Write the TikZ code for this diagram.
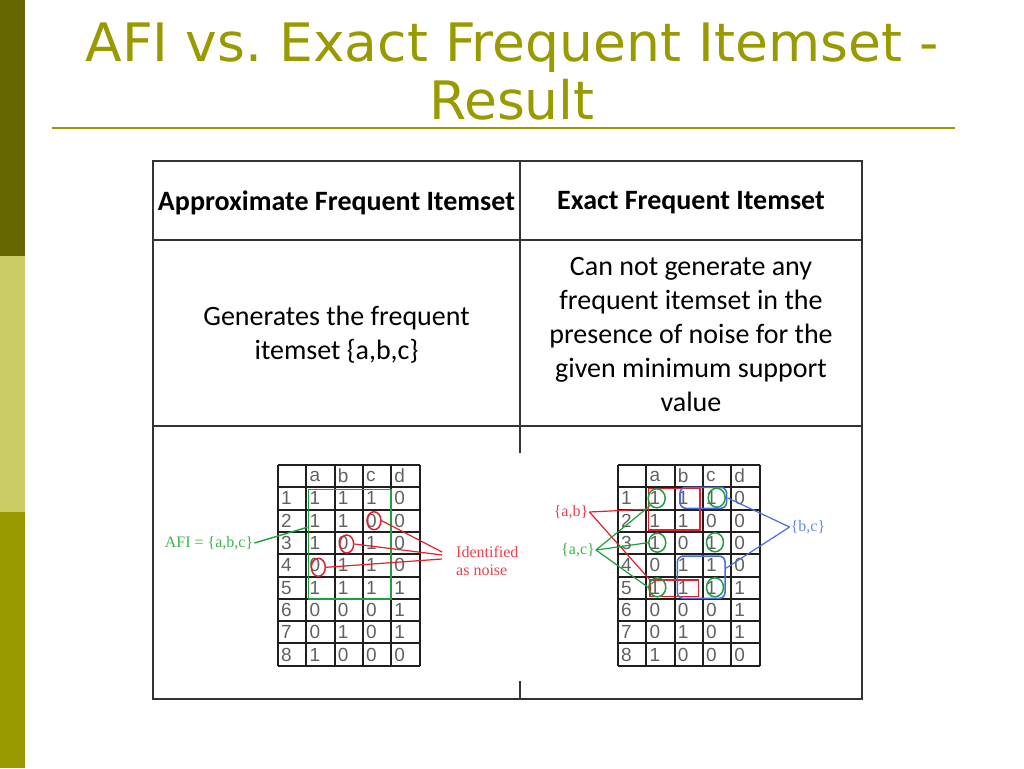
\documentclass[tikz,border=0pt]{standalone}
\usepackage{fontspec}
\setmainfont{Carlito}
\newfontfamily\titlefont[FakeStretch=1.01]{DejaVu Sans}
\newfontfamily\gridfont{Liberation Sans}
\newfontfamily\notefont{Liberation Serif}
\usetikzlibrary{positioning,shapes.geometric}
\definecolor{sidedark}{HTML}{666600}
\definecolor{sidelight}{HTML}{CCCC66}
\definecolor{sideolive}{HTML}{999900}
\definecolor{noisered}{HTML}{E0202C}
\definecolor{labelred}{HTML}{E8404E}
\definecolor{setgreen}{HTML}{1E9E3C}
\definecolor{labelgreen}{HTML}{3CB44B}
\definecolor{setblue}{HTML}{4A6CE0}
\definecolor{labelblue}{HTML}{6A86E8}
\frenchspacing

% one 0/1 table of transactions, #1 = origin, #2 = name prefix
\newcommand\itemgrid[2]{%
\begin{scope}[shift={#1}]
\foreach \i in {0,...,9} \draw[gridline] (0,\i*22.3) -- (141.5,\i*22.3);
\foreach \j in {0,...,5} \draw[gridline] (\j*28.3,0) -- (\j*28.3,200.7);
\foreach \h [count=\c] in {a,b,c,d} \node[cell](#2-0-\c) at (\c*28.3+2,11.15) {\h};
\foreach \r [count=\n] in {{1,1,1,0},{1,1,0,0},{1,0,1,0},{0,1,1,0},{1,1,1,1},{0,0,0,1},{0,1,0,1},{1,0,0,0}}{
  \node[cell](#2-\n-0) at (2,\n*22.3+11.15) {\n};
  \foreach \v [count=\c] in \r \node[cell](#2-\n-\c) at (\c*28.3+2,\n*22.3+11.15) {\v};
}
\end{scope}}

\begin{document}
\begin{tikzpicture}[x=1pt,y=-1pt,
  gridline/.style={draw=black!88,line width=2pt},
  cell/.style={anchor=west,inner sep=1pt,font=\gridfont\fontsize{19}{19}\selectfont,text=black!62},
  tableline/.style={draw=black!80,line width=1.1pt},
  noise/.style={ellipse,draw=noisered,line width=1.5pt,minimum width=14,minimum height=18,inner sep=0pt},
  hit/.style={ellipse,draw=setgreen,line width=1.5pt,minimum width=17,minimum height=19,inner sep=0pt},
  setbox/.style={rectangle,line width=1.6pt,inner sep=0pt},
  note/.style={font=\notefont\fontsize{16}{18}\selectfont,inner sep=1pt},
  head/.style={font=\bfseries\fontsize{28}{34}\selectfont},
  body/.style={font=\fontsize{28}{34}\selectfont,align=center}]
\useasboundingbox (0,0) rectangle (1024,768);

% side bar and title
\fill[sidedark] (0,0) rectangle (25,256);
\fill[sidelight] (0,256) rectangle (25,512);
\fill[sideolive] (0,512) rectangle (25,768);
\node[anchor=base,text=sideolive,font=\titlefont\fontsize{53}{60}\selectfont](t1) at (512,61) {AFI vs. Exact Frequent Itemset -};
\node[anchor=base,text=sideolive,font=\titlefont\fontsize{53}{60}\selectfont](t2) at (512,119) {Result};
\draw[sideolive,line width=2pt] (52,128) -- (955,128);

% table
\draw[tableline] (153,161) rectangle (862,699);
\draw[tableline] (153,240) -- (862,240);
\draw[tableline] (153,426) -- (862,426);
\draw[tableline] (520,161) -- (520,453);
\draw[tableline] (520,681) -- (520,699);
\node[head](h1) at (336.5,203) {Approximate Frequent Itemset};
\node[head](h2) at (691,203) {Exact Frequent Itemset};
\node[body](b1) at (336.5,335) {Generates the frequent\\itemset \{a,b,c\}};
\node[body](b2) at (691,335) {Can not generate any\\frequent itemset in the\\presence of noise for the\\given minimum support\\value};

% left: approximate itemset
\itemgrid{(278,465)}{L}
\node[setbox,draw=setgreen,minimum width=82.4,minimum height=109.7](afibox) at (349.5,544.2) {};
\node[noise](n1) at (374,520.7) {};
\node[noise](n2) at (346.7,544) {};
\node[noise](n3) at (318.3,567.3) {};
\node[note,text=labelgreen](afi) at (209,543) {AFI = \{a,b,c\}};
\node[note,text=labelred,align=left,anchor=west](idn) at (455,561) {Identified\\as noise};
\coordinate (nz) at (442,555);
\draw[setgreen,line width=1.4pt] (afi.east) -- ([yshift=17pt]afibox.west);
\draw[noisered,line width=1.2pt] (n1.east) -- ([yshift=3pt]nz);
\draw[noisered,line width=1.2pt] (n2.east) -- (nz);
\draw[noisered,line width=1.2pt] (n3.east) -- ([yshift=-4pt]nz);

% right: exact itemsets
\itemgrid{(618,465)}{R}
\node[setbox,draw=noisered,minimum width=51.7,minimum height=41.7](rb1) at (674.2,509.2) {};
\node[setbox,draw=noisered,minimum width=48.3,minimum height=16.7](rb2) at (674.2,588.3) {};
\node[setbox,draw=setblue,rounded corners=6pt,minimum width=46.7,minimum height=21](bb1) at (703.3,497.8) {};
\node[setbox,draw=setblue,rounded corners=6pt,minimum width=47.7,minimum height=42.3](bb2) at (701.2,577.2) {};
\node[hit](g1) at (656.7,498.3) {};
\node[hit](g2) at (716.7,497.7) {};
\node[hit](g3) at (657.3,542.7) {};
\node[hit](g4) at (715,542.3) {};
\node[hit](g5) at (657.3,587.3) {};
\node[hit](g6) at (715,587.3) {};
\node[note,text=labelred](ab) at (571,512) {\{a,b\}};
\node[note,text=labelgreen](ac) at (578,550) {\{a,c\}};
\node[note,text=labelblue](bc) at (808,527) {\{b,c\}};
\draw[noisered,line width=1.2pt] (ab.east) -- (rb1.west);
\draw[noisered,line width=1.2pt] (ab.east) -- (rb2.north west);
\draw[setgreen,line width=1.2pt] (ac.east) -- (g1.south west);
\draw[setgreen,line width=1.2pt] (ac.east) -- (g3.west);
\draw[setgreen,line width=1.2pt] (ac.east) -- (g5.west);
\draw[setblue,line width=1.2pt] (bc.west) -- (bb1.east);
\draw[setblue,line width=1.2pt] (bc.west) -- (bb2.20);
\end{tikzpicture}
\end{document}
